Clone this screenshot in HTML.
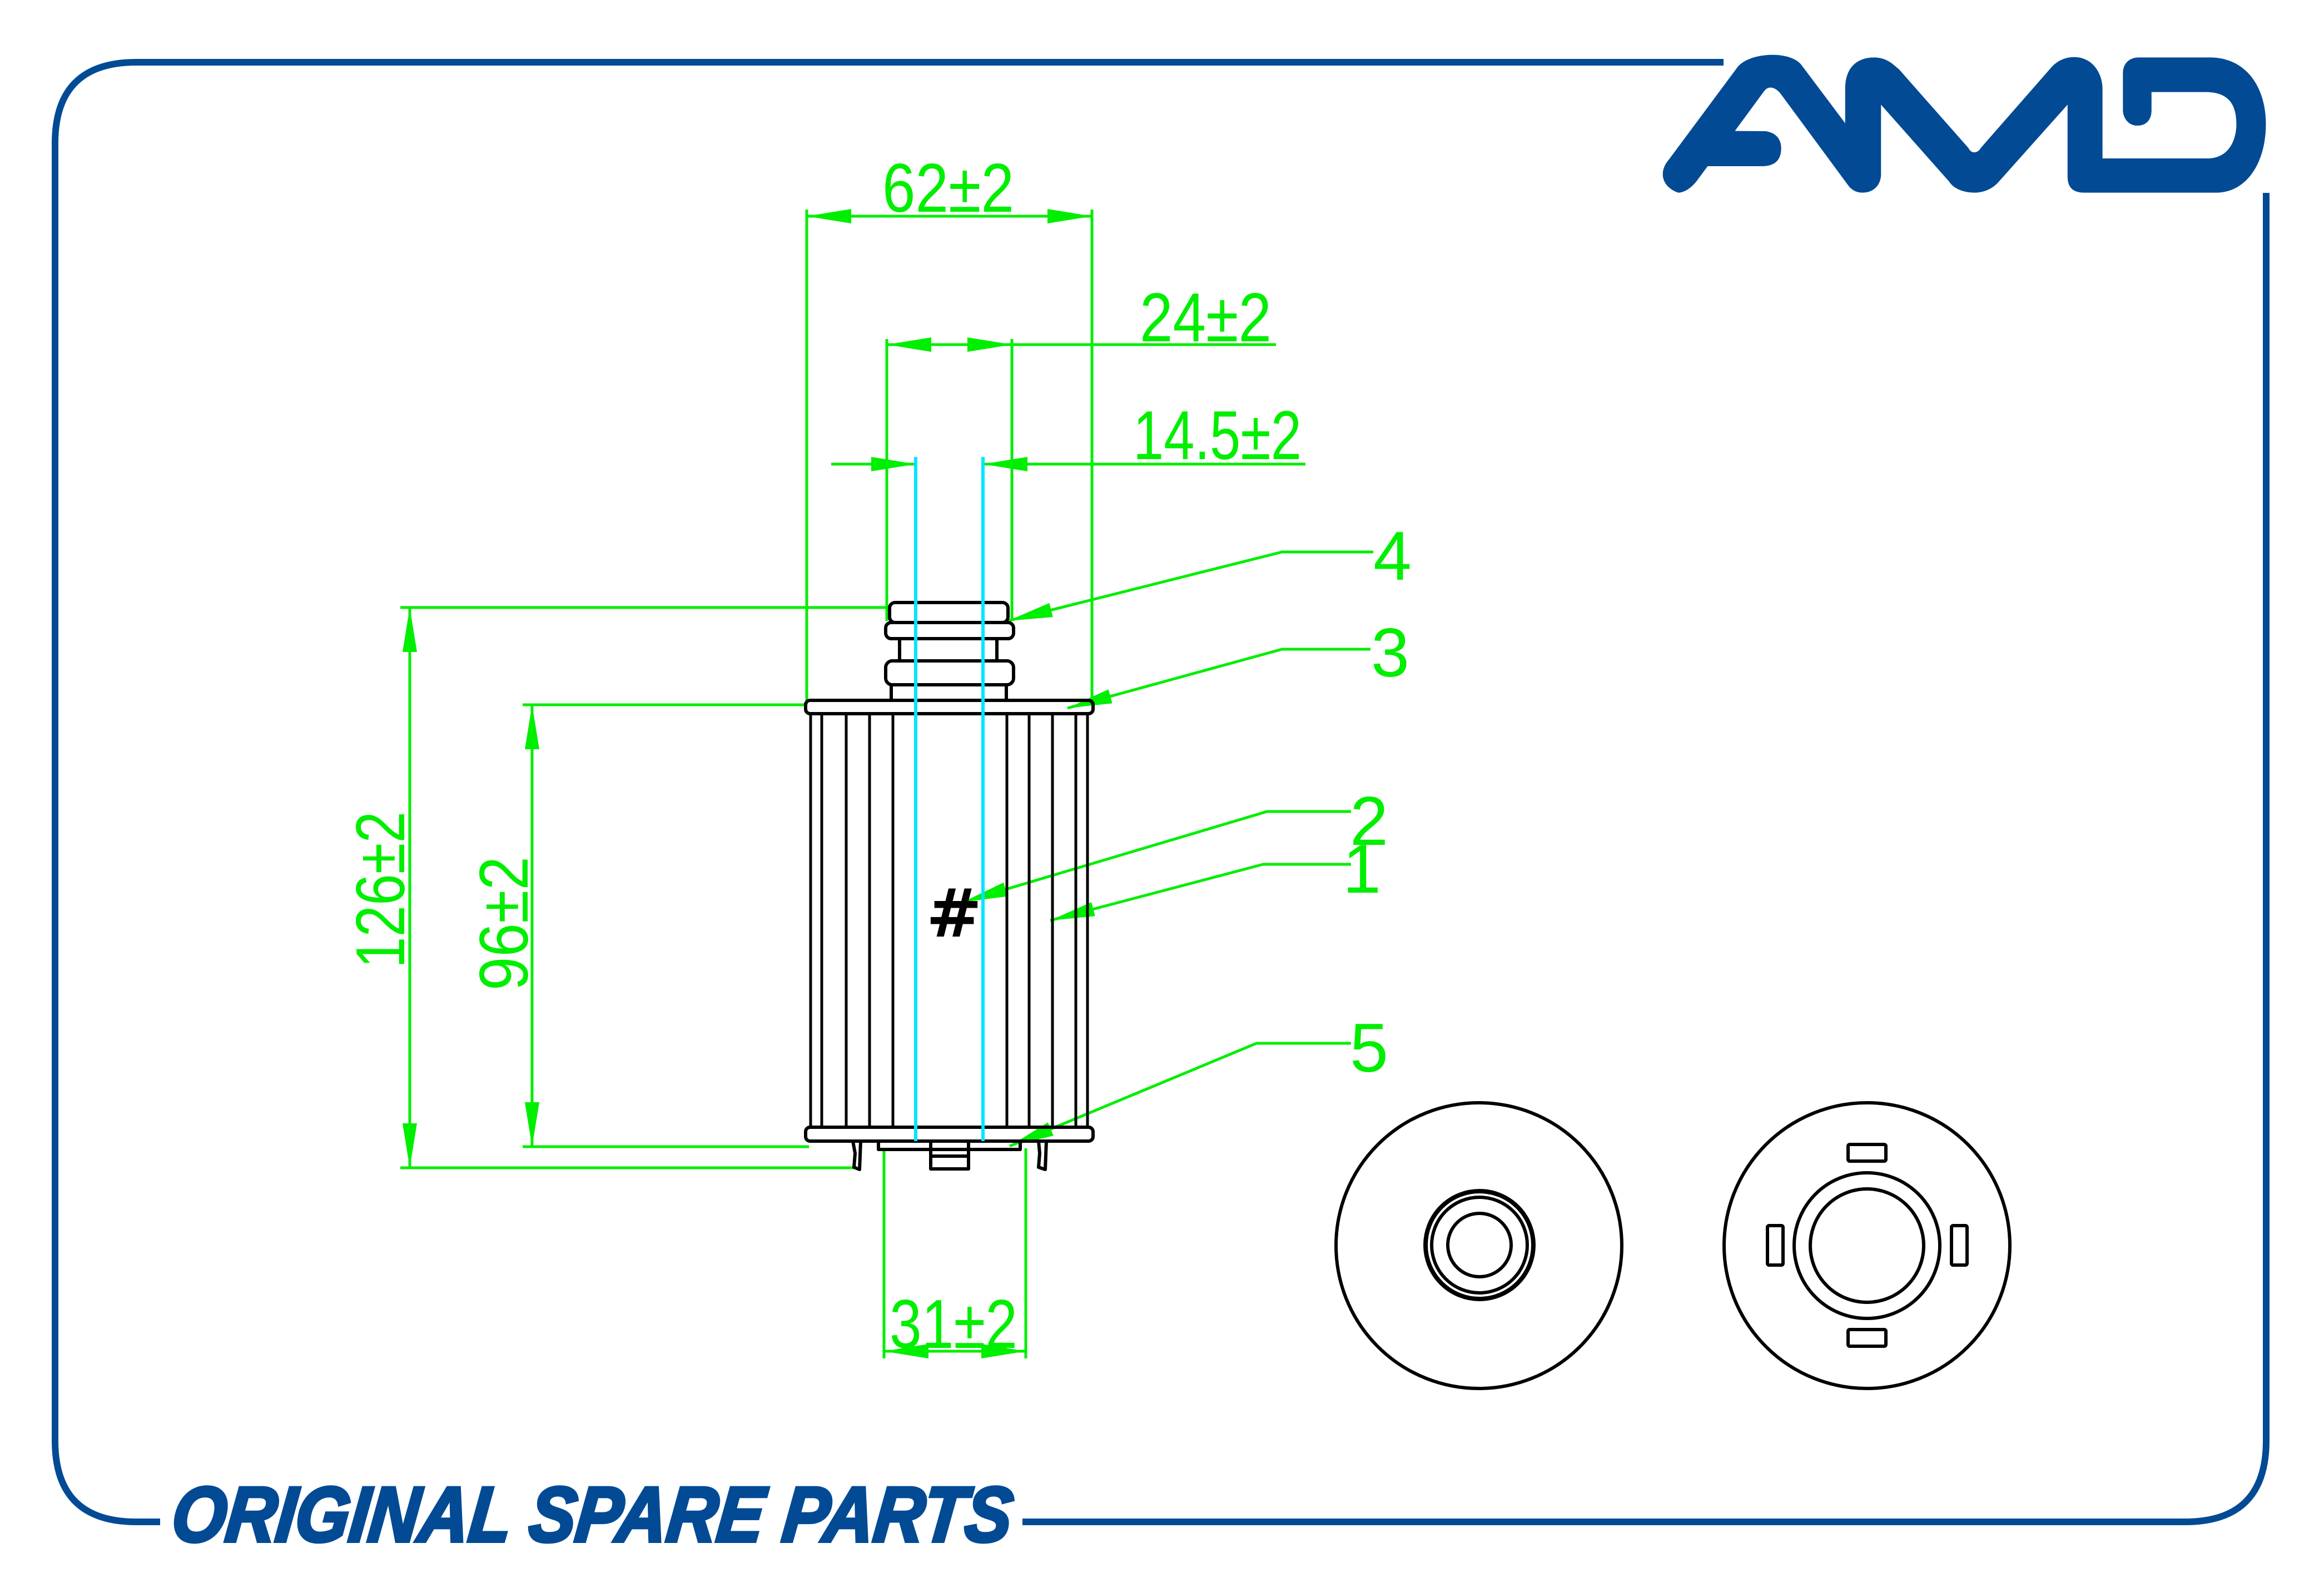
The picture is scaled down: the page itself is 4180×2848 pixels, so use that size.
<!DOCTYPE html>
<html><head><meta charset="utf-8"><style>html,body{margin:0;padding:0;background:#fff}svg{display:block}</style></head>
<body>
<svg width="4180" height="2848" viewBox="0 0 4180 2848" xmlns="http://www.w3.org/2000/svg">
<defs>
<marker id="ar" markerUnits="userSpaceOnUse" markerWidth="100" markerHeight="40" refX="0" refY="0" viewBox="-90 -20 100 40" orient="auto-start-reverse">
<path d="M0,0 L-80,-13 L-80,13 Z" fill="#00ee00"/>
</marker>
</defs>
<rect width="4180" height="2848" fill="#fff"/>
<!-- frame -->
<g fill="none" stroke="#024a94" stroke-width="12">
<path d="M3100,112 L245,112 Q99,112 99,258 L99,2592 Q99,2738 245,2738 L288,2738"/>
<path d="M1839,2738 L3930,2738 Q4076,2738 4076,2592 L4076,347"/>
</g>
<!-- logo -->
<g transform="translate(2900,50) scale(0.8163,0.3333)">
<path fill="#024a94" d="M145,890 C110,860 100,780 125,710 L275,215 C300,130 395,120 418,205 L513,515 L513,330 C513,200 545,160 577,160 C605,160 620,200 632,225 L785,650 C790,680 805,680 812,648 L965,220 C980,175 1000,158 1018,158 C1060,160 1080,250 1080,330 L1080,705 L1315,705 C1360,700 1375,600 1375,520 C1375,420 1360,350 1310,347 L1188,347 L1188,445 C1188,500 1175,528 1157,528 C1135,528 1125,480 1125,445 L1125,245 C1125,190 1140,160 1160,160 L1320,160 C1400,165 1440,330 1440,520 C1440,720 1400,890 1330,890 L1040,890 C1010,890 1003,850 1003,800 L1003,415 L850,835 C835,875 815,890 798,890 C775,890 752,870 742,830 L592,415 L592,790 C592,850 575,890 552,890 C535,890 525,870 518,845 L372,360 C360,320 345,310 335,340 L270,557 L337,558 C360,565 372,600 372,650 C372,710 360,745 332,747 L210,747 L185,830 C170,875 155,890 145,890 Z"/>
</g>
<text x="300" y="2773" font-family="Liberation Sans, sans-serif" font-weight="bold" font-style="italic" font-size="140" fill="#024a94" stroke="#024a94" stroke-width="6" textLength="1510" lengthAdjust="spacingAndGlyphs" transform="skewX(-6) translate(297,0)">ORIGINAL SPARE PARTS</text>

<!-- green dimension lines -->
<g stroke="#00ee00" stroke-width="5" fill="none">
<line x1="1451" y1="377" x2="1451" y2="1262"/>
<line x1="1964" y1="377" x2="1964" y2="1262"/>
<line x1="1451" y1="389" x2="1964" y2="389" marker-start="url(#ar)" marker-end="url(#ar)"/>
<line x1="1595" y1="610" x2="1595" y2="1117"/>
<line x1="1820" y1="610" x2="1820" y2="1117"/>
<line x1="1595" y1="620" x2="1820" y2="620" marker-start="url(#ar)" marker-end="url(#ar)"/>
<line x1="1820" y1="620" x2="2295" y2="620"/>
<line x1="1495" y1="835" x2="1647" y2="835" marker-end="url(#ar)"/>
<line x1="2348" y1="835" x2="1768" y2="835" marker-end="url(#ar)"/>
<line x1="720" y1="1093" x2="1600" y2="1093"/>
<line x1="720" y1="2101" x2="1540" y2="2101"/>
<line x1="737" y1="1093" x2="737" y2="2101" marker-start="url(#ar)" marker-end="url(#ar)"/>
<line x1="940" y1="1268" x2="1451" y2="1268"/>
<line x1="940" y1="2063" x2="1455" y2="2063"/>
<line x1="957" y1="1268" x2="957" y2="2063" marker-start="url(#ar)" marker-end="url(#ar)"/>
<line x1="1590" y1="2066" x2="1590" y2="2444"/>
<line x1="1845" y1="2066" x2="1845" y2="2444"/>
<line x1="1590" y1="2431" x2="1845" y2="2431" marker-start="url(#ar)" marker-end="url(#ar)"/>
<polyline points="1813,1117 2306,993 2470,993" marker-start="url(#ar)"/>
<polyline points="1920,1274 2306,1168 2465,1168" marker-start="url(#ar)"/>
<polyline points="1732,1623 2279,1460 2430,1460" marker-start="url(#ar)"/>
<polyline points="1889,1656 2272,1555 2430,1555" marker-start="url(#ar)"/>
<polyline points="1816,2062 2260,1877 2430,1877" marker-start="url(#ar)"/>
</g>
<g font-family="Liberation Sans, sans-serif" fill="#00ee00" font-size="124">
<text x="1587" y="381" textLength="237" lengthAdjust="spacingAndGlyphs">62±2</text>
<text x="2050" y="614" textLength="237" lengthAdjust="spacingAndGlyphs">24±2</text>
<text x="2038" y="826" textLength="303" lengthAdjust="spacingAndGlyphs">14.5±2</text>
<text x="1600" y="2425" textLength="230" lengthAdjust="spacingAndGlyphs">31±2</text>
<text x="2470" y="1043">4</text>
<text x="2466" y="1217">3</text>
<text x="2428" y="1520">2</text>
<text x="2415" y="1606">1</text>
<text x="2428" y="1928">5</text>
<text transform="translate(727,1742) rotate(-90)" textLength="282" lengthAdjust="spacingAndGlyphs">126±2</text>
<text transform="translate(949,1782) rotate(-90)" textLength="241" lengthAdjust="spacingAndGlyphs">96±2</text>
</g>

<!-- filter drawing -->
<g stroke="#000" stroke-width="6" fill="none" stroke-linejoin="round">
<rect x="1600" y="1084" width="213" height="36" rx="10"/>
<rect x="1593" y="1120" width="230" height="29" rx="10"/>
<rect x="1618" y="1149" width="175" height="40"/>
<rect x="1593" y="1189" width="230" height="43" rx="12"/>
<rect x="1603" y="1232" width="207" height="28"/>
<rect x="1449" y="1260" width="517" height="24" rx="8"/>
<rect x="1449" y="2028" width="517" height="25" rx="8"/>
<g stroke-width="5">
<line x1="1458" y1="1284" x2="1458" y2="2028"/>
<line x1="1478" y1="1284" x2="1478" y2="2028"/>
<line x1="1522" y1="1284" x2="1522" y2="2028"/>
<line x1="1564" y1="1284" x2="1564" y2="2028"/>
<line x1="1606" y1="1284" x2="1606" y2="2028"/>
<line x1="1811" y1="1284" x2="1811" y2="2028"/>
<line x1="1851" y1="1284" x2="1851" y2="2028"/>
<line x1="1893" y1="1284" x2="1893" y2="2028"/>
<line x1="1935" y1="1284" x2="1935" y2="2028"/>
<line x1="1956" y1="1284" x2="1956" y2="2028"/>
</g>
<path d="M1580,2053 L1580,2068 L1835,2068 L1835,2053"/>
<rect x="1674" y="2053" width="68" height="50"/>
<line x1="1674" y1="2080" x2="1742" y2="2080"/>
<path d="M1534,2053 L1538,2075 L1536,2100 L1546,2104 L1548,2053"/>
<path d="M1868,2053 L1870,2075 L1868,2100 L1880,2104 L1882,2053"/>
</g>
<g stroke="#00e5ff" stroke-width="6">
<line x1="1647" y1="822" x2="1647" y2="2053"/>
<line x1="1768" y1="822" x2="1768" y2="2053"/>
</g>
<text x="1716" y="1685" text-anchor="middle" font-family="DejaVu Sans, sans-serif" font-weight="bold" font-size="120" fill="#000">#</text>

<!-- end views -->
<g stroke="#000" stroke-width="6" fill="none">
<circle cx="2660" cy="2241" r="257"/>
<circle cx="2661" cy="2240" r="97" stroke-width="8"/>
<circle cx="2661" cy="2240" r="86" stroke-width="6"/>
<circle cx="2661" cy="2240" r="57"/>
<circle cx="3358" cy="2241" r="257"/>
<circle cx="3358" cy="2241" r="131"/>
<circle cx="3358" cy="2241" r="102"/>
<rect x="3324" y="2059" width="68" height="30" rx="3"/>
<rect x="3324" y="2392" width="68" height="30" rx="3"/>
<rect x="3179" y="2205" width="28" height="71" rx="3"/>
<rect x="3510" y="2205" width="28" height="71" rx="3"/>
</g>
</svg>
</body></html>
